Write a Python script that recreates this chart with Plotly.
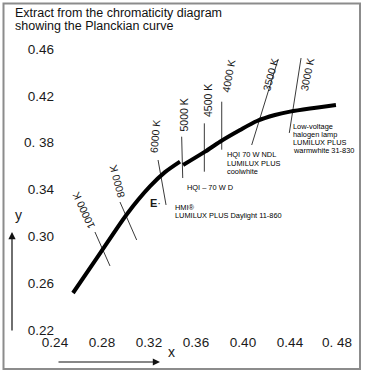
import plotly.graph_objects as go

# ---- data (CIE x, y chromaticity) ----
# Planckian curve, drawn in two pieces (small step at the 5000 K isotherm)
curve_hot_x = [0.2553, 0.2757, 0.3013, 0.3208, 0.3336, 0.3464]
curve_hot_y = [0.2516, 0.2815, 0.3191, 0.3426, 0.3548, 0.3638]
curve_warm_x = [0.3490, 0.3677, 0.3804, 0.3975, 0.4119, 0.4272, 0.4400, 0.4570, 0.4791]
curve_warm_y = [0.3609, 0.3723, 0.3808, 0.3908, 0.3985, 0.4036, 0.4065, 0.4092, 0.4122]

iso_labels = ["10000 K", "8000 K", "6000 K", "5000 K", "4500 K", "4000 K", "3500 K", "3000 K"]
iso_x0 = [0.2740, 0.2953, 0.3277, 0.3478, 0.3671, 0.3819, 0.4300, 0.4494]
iso_y0 = [0.3037, 0.3293, 0.3652, 0.3851, 0.3965, 0.4150, 0.4515, 0.4523]
iso_x1 = [0.2868, 0.3095, 0.3345, 0.3487, 0.3671, 0.3819, 0.4074, 0.4394]
iso_y1 = [0.2747, 0.2969, 0.3268, 0.3498, 0.3552, 0.3740, 0.3780, 0.3883]
iso_lab_x = [0.2641, 0.2928, 0.3255, 0.3502, 0.3698, 0.3877, 0.4232, 0.4545]
iso_lab_y = [0.3218, 0.3464, 0.3853, 0.4036, 0.4160, 0.4369, 0.4378, 0.4378]
iso_angle = [-115, -105, -85, -90, -90, -80, -75, -78]

x_ticks = [0.24, 0.28, 0.32, 0.36, 0.40, 0.44, 0.48]
x_ticktext = ["0.24", "0.28", "0.32", "0.36", "0.40", "0.44", "0. 48"]
y_ticks = [0.22, 0.26, 0.30, 0.34, 0.38, 0.42, 0.46]
y_ticktext = ["0.22", "0.26", "0.30", "0.34", "0. 38", "0.42", "0.46"]

note_lines = ["HQI 70 W NDL", "LUMILUX PLUS", "coolwhite",
              "HQI – 70 W D",
              "HMI®", "LUMILUX PLUS Daylight 11-860",
              "Low-voltage", "halogen lamp", "LUMILUX PLUS", "warmwhite 31-830"]
note_x = [0.3847, 0.3847, 0.3847, 0.3506, 0.3404, 0.3404, 0.4408, 0.4408, 0.4408, 0.4408]
note_y = [0.3695, 0.3626, 0.3558, 0.3421, 0.3246, 0.3182, 0.3942, 0.3866, 0.3801, 0.3737]

title_lines = ["Extract from the chromaticity diagram", "showing the Planckian curve"]

FONT = "Liberation Sans, Arial, Helvetica, sans-serif"
INK = "#1a1a1a"

W, H = 366, 375
L, R, T, B = 55, 29, 49, 45
PW, PH = W - L - R, H - T - B


def px_x(p):
    return (p - L) / PW


def px_y(p):
    return (H - B - p) / PH


fig = go.Figure()

# isotherm lines
for i in range(len(iso_labels)):
    fig.add_trace(go.Scatter(x=[iso_x0[i], iso_x1[i]], y=[iso_y0[i], iso_y1[i]],
                             mode="lines", line=dict(color="#3a3a3a", width=1),
                             hoverinfo="skip", showlegend=False))

# Planckian curve
for cx, cy in ((curve_hot_x, curve_hot_y), (curve_warm_x, curve_warm_y)):
    fig.add_trace(go.Scatter(x=cx, y=cy, mode="lines",
                             line=dict(color="black", width=4, shape="spline", smoothing=0.8),
                             hoverinfo="skip", showlegend=False))

annotations = []
for i, lab in enumerate(iso_labels):
    annotations.append(dict(x=iso_lab_x[i], y=iso_lab_y[i], xref="x", yref="y", text=lab,
                            showarrow=False, textangle=iso_angle[i],
                            font=dict(family=FONT, size=10.5, color=INK)))
for i, t in enumerate(note_lines):
    annotations.append(dict(x=note_x[i], y=note_y[i], xref="x", yref="y", text=t,
                            showarrow=False, xanchor="left", yanchor="middle",
                            font=dict(family=FONT, size=7.4, color="#000")))
annotations.append(dict(x=0.3191, y=0.3285, xref="x", yref="y", text="<b>E</b>·",
                        showarrow=False, xanchor="left", yanchor="middle",
                        font=dict(family=FONT, size=11, color=INK)))
# title
annotations.append(dict(x=px_x(13), y=px_y(22), xref="paper", yref="paper", text=title_lines[0],
                        showarrow=False, xanchor="left", yanchor="bottom",
                        font=dict(family=FONT, size=12.5, color="#111")))
annotations.append(dict(x=px_x(13), y=px_y(35.3), xref="paper", yref="paper", text=title_lines[1],
                        showarrow=False, xanchor="left", yanchor="bottom",
                        font=dict(family=FONT, size=12.5, color="#111")))
# axis names with arrows
annotations.append(dict(x=px_x(12.5), y=px_y(215), xref="paper", yref="paper", text="y",
                        showarrow=False, font=dict(family=FONT, size=14, color=INK)))
annotations.append(dict(x=px_x(171), y=px_y(362), xref="paper", yref="paper", text="x",
                        showarrow=False, font=dict(family=FONT, size=14, color=INK)))
annotations.append(dict(x=px_x(12), y=px_y(232), xref="paper", yref="paper", text="",
                        showarrow=True, ax=0, ay=100, arrowhead=2, arrowsize=1.2,
                        arrowwidth=1.2, arrowcolor="#111"))
annotations.append(dict(x=px_x(160), y=px_y(362), xref="paper", yref="paper", text="",
                        showarrow=True, ax=-103, ay=0, arrowhead=2, arrowsize=1.2,
                        arrowwidth=1.2, arrowcolor="#111"))

fig.update_layout(
    width=W, height=H, margin=dict(l=L, r=R, t=T, b=B, pad=0),
    paper_bgcolor="white", plot_bgcolor="white",
    annotations=annotations,
    shapes=[dict(type="rect", xref="paper", yref="paper",
                 x0=px_x(3.5), x1=px_x(360), y0=px_y(369), y1=px_y(3.5),
                 line=dict(color="#8c8c8c", width=2))],
    xaxis=dict(range=[0.24, 0.48], tickvals=x_ticks, ticktext=x_ticktext,
               showgrid=False, zeroline=False, showline=False, ticks="",
               ticklabelstandoff=2,
               tickfont=dict(family=FONT, size=13.5, color=INK), fixedrange=True),
    yaxis=dict(range=[0.22, 0.46], tickvals=y_ticks, ticktext=y_ticktext,
               showgrid=False, zeroline=False, showline=False, ticks="",
               tickfont=dict(family=FONT, size=13.5, color=INK), fixedrange=True),
)

fig.write_html("out.html", config={"displayModeBar": False},
               post_script="document.body.style.margin='0px';")
